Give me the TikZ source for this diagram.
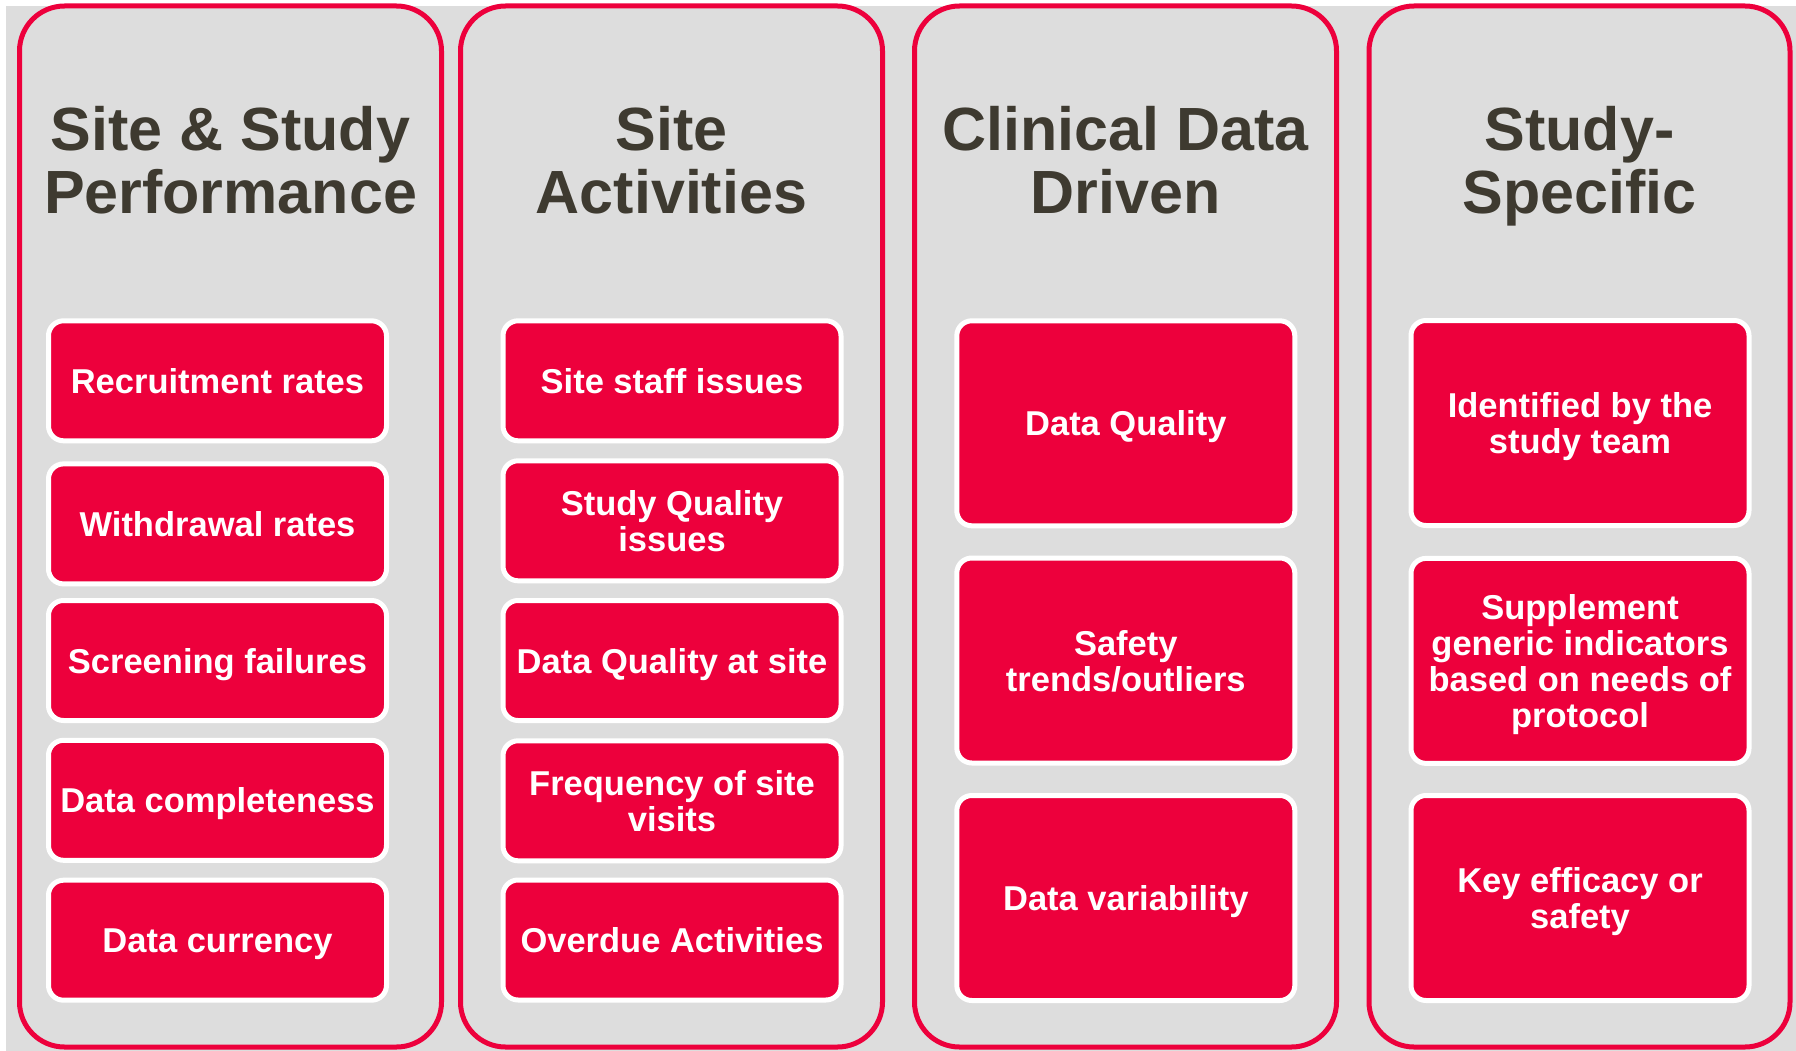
\documentclass[tikz,border=0pt]{standalone}
\usepackage{fontspec}
\setmainfont{Liberation Sans}
\definecolor{brand}{RGB}{237,0,60}
\definecolor{panelgray}{RGB}{221,221,221}
\definecolor{titlecol}{RGB}{62,58,48}
\begin{document}
\begin{tikzpicture}[x=1pt,y=-1pt,
  panel/.style={draw=brand, line width=5pt, rounded corners=45pt, minimum width=422pt, minimum height=1041pt, inner sep=0pt},
  item/.style={draw=white, fill=brand, line width=5pt, rounded corners=15pt, minimum width=338pt, inner sep=0pt, text=white, align=center, text depth=0pt, font=\bfseries\fontsize{34.5}{36}\selectfont},
  short/.style={minimum height=120pt},
  tall/.style={minimum height=205pt},
  title/.style={anchor=north, inner sep=0pt, text=titlecol, align=center, font=\bfseries\fontsize{61}{63}\selectfont}]
\useasboundingbox (0,0) rectangle (1796,1051);
\fill[white] (0,0) rectangle (1796,1051);
\fill[panelgray] (6,6) rectangle (1796,1051);

% panels
\node[panel] (p1) at (230.5,526.5) {};
\node[panel] (p2) at (671.5,526.5) {};
\node[panel] (p3) at (1125.5,526.5) {};
\node[panel, minimum width=421pt] (p4) at (1579.5,526.5) {};

% titles
\node[title] (t1) at (230.5,104) {\rule{0pt}{46pt}Site \& Study\\Performance};
\node[title] (t2) at (671.5,104) {\rule{0pt}{46pt}Site\\Activities};
\node[title] (t3) at (1125.5,104) {\rule{0pt}{46pt}Clinical Data\\Driven};
\node[title] (t4) at (1579.5,104) {\rule{0pt}{46pt}Study-\\Specific};

% column 1
\node[item, short] (a1) at (217.5,380.8) {Recruitment rates};
\node[item, short] (a2) at (217.5,523.9) {Withdrawal rates};
\node[item, short] (a3) at (217.5,660.5) {Screening failures};
\node[item, short] (a4) at (217.5,800.3) {Data completeness};
\node[item, short] (a5) at (217.5,940.2) {Data currency};

% column 2
\node[item, short] (b1) at (672,380.8) {Site staff issues};
\node[item, short] (b2) at (672,520.8) {Study Quality\\issues};
\node[item, short] (b3) at (672,660.5) {Data Quality at site};
\node[item, short] (b4) at (672,800.8) {Frequency of site\\visits};
\node[item, short] (b5) at (672,940) {Overdue Activities};

% column 3
\node[item, tall] (c1) at (1125.8,423.3) {Data Quality};
\node[item, tall] (c2) at (1125.8,660.5) {Safety\\trends/outliers};
\node[item, tall] (c3) at (1125.8,898) {Data variability};

% column 4
\node[item, tall] (d1) at (1580,423) {Identified by the\\study team};
\node[item, tall] (d2) at (1580,660.9) {Supplement\\generic indicators\\based on needs of\\protocol};
\node[item, tall] (d3) at (1580,898) {Key efficacy or\\safety};
\end{tikzpicture}
\end{document}
